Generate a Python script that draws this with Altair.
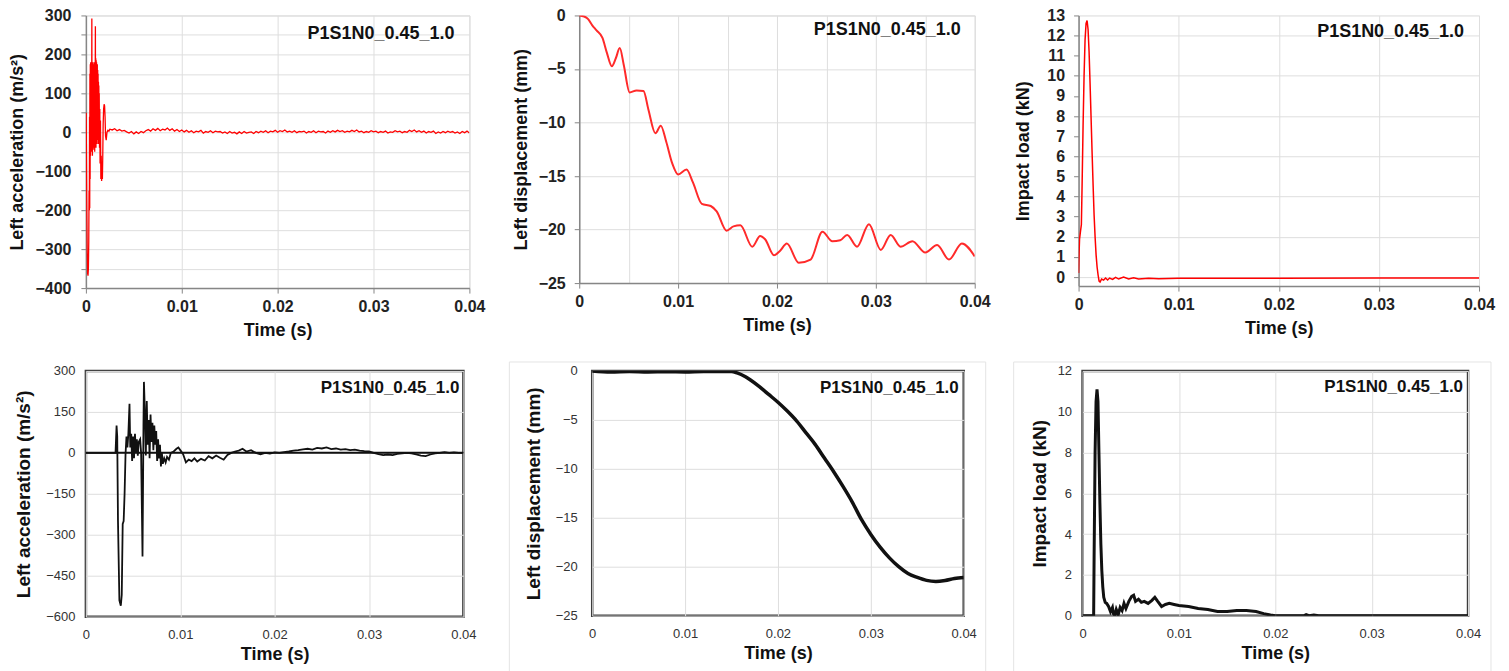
import altair as alt
import pandas as pd

FONT = "Liberation Sans"
LABEL = "P1S1N0_0.45_1.0"

# ---------------- data (time in ms) ----------------
# Top-left: left acceleration (m/s^2), red
acc1_ms = [0.00, 0.03, 0.06, 0.10, 0.14, 0.18, 0.22, 0.26, 0.30, 0.33, 0.36, 0.38, 0.40, 0.42,
           0.44, 0.46, 0.48, 0.50, 0.52, 0.54, 0.56, 0.58, 0.60, 0.62, 0.64, 0.66, 0.68, 0.70,
           0.72, 0.74, 0.76, 0.78, 0.80, 0.82, 0.84, 0.86, 0.88, 0.90, 0.92, 0.94, 0.96, 0.99,
           1.01, 1.03, 1.05, 1.07, 1.09, 1.11, 1.13, 1.15, 1.17, 1.19, 1.21, 1.23, 1.25, 1.27,
           1.29, 1.31, 1.33, 1.35, 1.37, 1.39, 1.42, 1.45, 1.48, 1.52, 1.56, 1.60, 1.64, 1.68,
           1.72, 1.76, 1.80, 1.85, 1.90, 1.95, 2.00, 2.05, 2.12, 2.20, 2.30, 2.40]
acc1_val = [0, 50, -60, -200, -310, -362, -368, -350, -280, -150, -200, 40, -195, 150,
            -120, 175, -60, 180, -30, 160, -50, 140, -20, 292, -40, 170, -60, 180,
            -30, 120, -45, 175, -10, 150, -40, 180, 0, 160, -50, 140, 20, 272,
            -20, 190, -40, 185, 10, 180, -30, 170, 30, 175, -20, 160, 20, 150,
            -30, 130, 10, 120, -20, 100, -40, 60, -80, 30, -120, -60, -125, -90,
            -120, -60, 20, 60, 72, 68, 40, -10, -20, 0, 5, 3]
acc1_tail_start = 2.5
acc1_tail_step = 0.25
acc1_tail = [8, 6, 9, 4, 7, 3, 5, 1, -2, 2, -4, 1, -3, 2, -1, 4,
             7, 3, 9, 5, 10, 4, 8, 6, 11, 5, 9, 3, 7, 2, 6, 1,
             5, 0, 4, -1, 3, 1, 5, -2, 2, 0, 4, -1, 3, 1, 2, -2,
             1, -3, 2, -2, 0, -4, 1, -3, 2, -2, 0, 1, -3, 2, -1, 3,
             0, 4, -1, 3, 1, 5, 0, 4, 2, 6, 1, 3, 0, 4, -1, 2,
             1, 3, -2, 2, 0, 4, -1, 3, 1, 2, -2, 3, 0, 4, 1, 5,
             2, 4, 0, 3, 1, 5, 2, 6, 1, 3, -1, 2, 0, 4, 1, 3,
             -1, 2, 0, 3, -2, 1, 0, 4, 1, 3, -1, 2, 0, 5, 2, 6,
             1, 4, 0, 3, -2, 2, 0, 3, -3, 1, -2, 2, -1, 3, 0, 2,
             -2, 1, -3, 2, -1, 3, -2]

# Top-middle: left displacement (mm), red
dis1_ms = [0, 0.5, 0.9, 1.3, 1.75, 2.35, 2.8, 3.3, 3.7, 4.1, 4.5, 5.1, 5.8, 6.5, 7.0, 7.7,
           8.25, 8.8, 9.4, 10.0, 10.85, 11.5, 12.4, 13.3, 13.9, 14.9, 15.6, 16.3, 17.5,
           18.3, 18.8, 19.7, 20.3, 21.0, 22.2, 23.4, 24.6, 25.6, 26.4, 27.1, 28.1, 29.3,
           30.5, 31.5, 32.5, 33.7, 35.0, 36.2, 37.4, 38.7, 40.0]
dis1_val = [0, -0.1, -0.35, -0.9, -1.4, -2.1, -3.5, -4.75, -4.0, -3.05, -4.6, -7.2, -7.0,
            -7.05, -8.8, -11.0, -10.3, -11.8, -13.8, -14.85, -14.4, -15.6, -17.6, -17.8,
            -18.3, -20.1, -19.7, -19.6, -21.6, -20.6, -20.9, -22.4, -22.0, -21.3, -23.1,
            -22.8, -20.2, -21.1, -21.0, -20.5, -21.6, -19.5, -21.9, -20.5, -21.6, -21.1,
            -22.15, -21.45, -22.8, -21.3, -22.5]

# Top-right: impact load (kN), red
imp1_ms = [0, 0.05, 0.1, 0.2, 0.28, 0.35, 0.45, 0.55, 0.65, 0.75, 0.85, 0.95, 1.05, 1.15,
           1.25, 1.35, 1.45, 1.55, 1.65, 1.75, 1.85, 1.95, 2.05, 2.15, 2.3, 2.5, 2.7, 2.9,
           3.1, 3.4, 3.7, 4.0, 4.5, 5.0, 5.5, 6.0, 7.0, 8.0, 10, 20, 30, 40]
imp1_val = [0.2, 1.2, 1.9, 2.3, 2.6, 4.5, 7.5, 10.0, 11.8, 12.6, 12.75, 12.3, 11.2, 9.6,
            7.9, 6.2, 4.6, 3.1, 2.0, 1.1, 0.5, 0.1, -0.2, -0.25, -0.1, -0.15, -0.05, -0.15,
            -0.05, -0.12, -0.02, -0.1, 0.0, -0.1, -0.04, -0.1, -0.06, -0.08, -0.06, -0.06,
            -0.05, -0.05]

# Bottom-left: left acceleration (m/s^2), black
acc2_ms = [0, 3.0, 3.14, 3.25, 3.32, 3.40, 3.55, 3.70, 3.80, 3.90, 4.00, 4.10, 4.20, 4.30,
           4.40, 4.50, 4.62, 4.70, 4.80, 4.90, 5.00, 5.10, 5.20, 5.30, 5.40, 5.50, 5.60,
           5.75, 5.85, 6.00, 6.10, 6.15, 6.25, 6.35, 6.45, 6.55, 6.65, 6.75, 6.85, 6.95,
           7.05, 7.15, 7.25, 7.35, 7.45, 7.55, 7.65, 7.75, 7.85, 7.95, 8.05, 8.15, 8.3,
           8.45, 8.6, 8.8, 9.0, 9.3, 9.6, 9.8, 10.0, 10.3, 10.6, 10.9, 11.2, 11.5, 11.8,
           12.2, 12.6, 13.0, 13.4, 13.8, 14.2, 14.6, 15.0, 15.4, 15.8, 16.2, 16.6, 17.0,
           17.5, 18.0, 18.5, 19.0, 19.5, 20.0, 20.5, 21.0, 21.5, 22.0, 22.5, 23.0, 23.5,
           24.0, 24.5, 25.0, 25.5, 26.0, 26.5, 27.0, 27.5, 28.0, 28.5, 29.0, 29.5, 30.0,
           30.5, 31.0, 31.5, 32.0, 32.5, 33.0, 33.5, 34.0, 34.5, 35.0, 35.5, 36.0, 36.5,
           37.0, 37.5, 38.0, 38.5, 39.0, 39.5, 40.0]
acc2_val = [0, 0, 0, 100, 60, -250, -540, -560, -520, -260, -250, -150, -5, 60,
            20, 70, 180, 20, 70, -30, 60, -20, 70, 0, 50, -10, 40,
            50, 0, -380, 100, 260, 150, -10, 190, 30, 120, -20, 140, 40,
            110, 10, 100, 30, 80, -30, 50, -20, 30, -50, 0, -40, -20,
            -35, -15, -25, 0, 5, 15, 20, 10, -5, -35, -25, -30, -20, -32,
            -22, -28, -12, -20, -10, -18, -25, -8, 0, 5, 8, 15, 5,
            10, 0, -5, 0, -3, 2, 0, 3, 5, 8, 10, 13, 15,
            12, 18, 16, 20, 14, 16, 12, 14, 10, 12, 8, 6, 5,
            0, -5, -8, -6, -8, -4, -2, 0, -2, -6, -10, -12, -6,
            -2, 0, 3, 0, 2, 0, 0]

# Bottom-middle: left displacement (mm), black
dis2_ms = [0, 2, 4, 6, 8, 10, 12, 14, 15, 15.6, 16.5, 17.0, 18.0, 19.0, 20.0, 21.0, 22.0,
           23.0, 24.0, 25.0, 26.0, 27.0, 28.0, 29.0, 30.0, 31.0, 32.0, 33.0, 34.0, 35.0,
           36.0, 37.0, 38.0, 39.0, 40.0]
dis2_val = [0, -0.1, -0.05, -0.1, -0.08, -0.1, -0.05, -0.05, -0.05, -0.2, -0.6, -0.9, -1.6,
            -2.4, -3.2, -4.1, -5.1, -6.3, -7.5, -8.9, -10.3, -11.8, -13.4, -15.2, -16.7,
            -18.0, -19.1, -20.0, -20.7, -21.1, -21.4, -21.5, -21.4, -21.2, -21.1]

# Bottom-right: impact load (kN), black
imp2_ms = [0, 1.15, 1.2, 1.3, 1.4, 1.5, 1.6, 1.7, 1.8, 1.9, 2.0, 2.1, 2.2, 2.35, 2.5, 2.7,
           2.9, 3.1, 3.2, 3.35, 3.5, 3.7, 3.9, 4.1, 4.3, 4.5, 4.8, 5.1, 5.3, 5.5, 5.8, 6.1,
           6.4, 6.8, 7.2, 7.5, 7.8, 8.2, 8.6, 9.0, 9.5, 10.0, 11.0, 12.0, 13.0, 14.0, 15.0,
           16.0, 17.0, 18.0, 18.8, 19.5, 20.0, 23.0, 23.2, 23.5, 24.0, 24.5, 40]
imp2_val = [0, 0, 3, 8, 10.5, 11.1, 10.5, 8, 5.5, 3.5, 2.2, 1.4, 0.9, 0.65, 0.6, 0.45,
            0.2, 0.4, 0.1, 0.0, 0.3, 0.05, 0.4, 0.25, 0.6, 0.35, 0.7, 0.95, 1.0, 0.7, 0.8,
            0.65, 0.7, 0.6, 0.75, 0.9, 0.7, 0.45, 0.55, 0.6, 0.55, 0.5, 0.45, 0.35, 0.3,
            0.2, 0.2, 0.25, 0.25, 0.2, 0.1, 0.03, 0.0, 0.0, 0.05, 0.0, 0.03, 0.0, 0]

# axis tick values
x_ticks = [0, 0.01, 0.02, 0.03, 0.04]
x_ticks_fine = [0, 0.005, 0.01, 0.015, 0.02, 0.025, 0.03, 0.035, 0.04]
y1_ticks = [-400, -350, -300, -250, -200, -150, -100, -50, 0, 50, 100, 150, 200, 250, 300]
y2_ticks = [-25, -20, -15, -10, -5, 0]
y3_ticks = [0, 1, 2, 3, 4, 5, 6, 7, 8, 9, 10, 11, 12, 13]
y4_ticks = [-600, -450, -300, -150, 0, 150, 300]
y5_ticks = [-25, -20, -15, -10, -5, 0]
y6_ticks = [0, 2, 4, 6, 8, 10, 12]


def frame(ms, vals):
    return pd.DataFrame({"t": [m / 1000.0 for m in ms], "v": vals})


acc1_all_ms = acc1_ms + [acc1_tail_start + i * acc1_tail_step for i in range(len(acc1_tail))]
df1 = frame(acc1_all_ms, acc1_val + acc1_tail)
df2 = frame(dis1_ms, dis1_val)
df3 = frame(imp1_ms, imp1_val)
df4 = frame(acc2_ms, acc2_val)
df5 = frame(dis2_ms, dis2_val)
df6 = frame(imp2_ms, imp2_val)

GRID = "#dedede"

# ---------- axis styles ----------
def top_x(values, fine=False):
    kw = dict(title="Time (s)", values=values, format="~g", labelFont=FONT, labelFontSize=16,
              labelFontWeight="bold", labelColor="#222", titleFont=FONT, titleFontSize=18,
              titleFontWeight="bold", titleColor="#111", domainColor="#868686", domainWidth=1.5,
              tickColor="#868686", tickSize=5, gridColor=GRID, labelPadding=5, titlePadding=7,
              labelFlush=False, labelOverlap=False)
    if fine:
        test = "abs(datum.value*100 - round(datum.value*100)) < 1e-6"
        kw["labelExpr"] = test + " ? datum.label : ''"
        kw["tickOpacity"] = {"condition": {"test": test, "value": 1}, "value": 0}
    return alt.Axis(**kw)


def top_y(title, values, extent, tpad, lpad, label_test=None, grid_test=None):
    kw = dict(title=title, values=values, format="d", labelFont=FONT, labelFontSize=16,
              labelFontWeight="bold", labelColor="#222", titleFont=FONT, titleFontSize=18,
              titleFontWeight="bold", titleColor="#111", domainColor="#868686", domainWidth=1.5,
              tickColor="#868686", tickSize=5, gridColor=GRID, labelPadding=lpad,
              titlePadding=tpad, minExtent=extent, maxExtent=extent, labelFlush=False,
              labelOverlap=False)
    if label_test:
        kw["labelExpr"] = label_test + " ? datum.label : ''"
    if grid_test:
        kw["gridOpacity"] = {"condition": {"test": grid_test, "value": 1}, "value": 0}
    return alt.Axis(**kw)


def bot_x():
    return alt.Axis(title="Time (s)", values=x_ticks, format="~g", labelFont=FONT,
                    labelFontSize=13, labelColor="#333", titleFont=FONT, titleFontSize=18,
                    titleFontWeight="bold", titleColor="#111", domain=False, ticks=False,
                    gridColor=GRID, labelPadding=12, titlePadding=4, labelFlush=False,
                    labelOverlap=False)


def bot_y(title, values, extent, tpad, lpad):
    return alt.Axis(title=title, values=values, format="d", labelFont=FONT, labelFontSize=13,
                    labelColor="#333", titleFont=FONT, titleFontSize=19, titleFontWeight="bold",
                    titleColor="#111", domain=False, ticks=False, gridColor=GRID,
                    labelPadding=lpad, titlePadding=tpad, minExtent=extent, maxExtent=extent,
                    labelFlush=False, labelOverlap=False)


def note(w, right, y, size):
    return alt.Chart(pd.DataFrame({"label": [LABEL]})).mark_text(
        align="right", baseline="middle", font=FONT, fontSize=size, fontWeight="bold",
        color="#111").encode(x=alt.value(w - right), y=alt.value(y), text="label:N")


def line(df, color, sw, xaxis, yaxis, ydom, interp="linear"):
    return alt.Chart(df).mark_line(color=color, strokeWidth=sw, interpolate=interp,
                                   clip=True).encode(
        x=alt.X("t:Q", axis=xaxis, scale=alt.Scale(domain=[0, 0.04], nice=False, zero=False)),
        y=alt.Y("v:Q", axis=yaxis, scale=alt.Scale(domain=ydom, nice=False, zero=False)),
    )


top_view = alt.ViewBackground(stroke="#d9d9d9", strokeWidth=1)
bot_view = alt.ViewBackground(stroke="#3c3c3c", strokeWidth=2.5)

# ---------- top row ----------
W1, H1 = 384, 273
p1 = alt.layer(
    line(df1, "#ff0000", 1.3, top_x(x_ticks),
         top_y("Left acceleration (m/s²)", y1_ticks, 47, 12, 10, label_test="datum.value % 100 === 0"),
         [-400, 300]),
    note(W1, 15, 19, 18),
).properties(width=W1, height=H1, view=top_view)

W2, H2 = 396, 268
p2 = alt.layer(
    line(df2, "#ff2a2a", 2, top_x(x_ticks_fine, fine=True),
         top_y("Left displacement (mm)", y2_ticks, 39, 10, 9), [-25, 0], "monotone"),
    note(W2, 14, 15, 18),
).properties(width=W2, height=H2, view=top_view)

W3, H3 = 401, 271
p3 = alt.layer(
    line(df3, "#ff0000", 1.5, top_x(x_ticks),
         top_y("Impact load (kN)", y3_ticks, 33, 13, 9, grid_test="datum.value % 2 === 0"),
         [-0.45, 13]),
    note(W3, 15, 17, 18),
).properties(width=W3, height=H3, view=top_view)

# ---------- bottom row ----------
W4, H4 = 378, 246
zero = alt.Chart(pd.DataFrame({"v": [0]})).mark_rule(color="#111", strokeWidth=2).encode(
    y=alt.Y("v:Q", scale=alt.Scale(domain=[-600, 300], nice=False, zero=False)))
p4 = alt.layer(
    zero,
    line(df4, "#111111", 1.8, bot_x(),
         bot_y("Left acceleration (m/s²)", y4_ticks, 38, 14, 11), [-600, 300]),
    note(W4, 4, 17, 17),
).properties(width=W4, height=H4, view=bot_view)

W5, H5 = 372, 245
box5 = alt.Chart(pd.DataFrame({"label": [LABEL]})).mark_rect(
    fill=None, stroke="#e4e4e4", strokeWidth=1).encode(
    x=alt.value(-83), x2=alt.value(W5 + 22), y=alt.value(-9), y2=alt.value(H5 + 70))
p5 = alt.layer(
    box5,
    line(df5, "#111111", 3.5, bot_x(),
         bot_y("Left displacement (mm)", y5_ticks, 37, 12, 15), [-25, 0], "monotone"),
    note(W5, 5, 17, 17),
).properties(width=W5, height=H5, view=bot_view)

W6, H6 = 386, 245
box6 = alt.Chart(pd.DataFrame({"label": [LABEL]})).mark_rect(
    fill=None, stroke="#e4e4e4", strokeWidth=1).encode(
    x=alt.value(-69), x2=alt.value(W6 + 23), y=alt.value(-9), y2=alt.value(H6 + 70))
p6 = alt.layer(
    box6,
    line(df6, "#111111", 3, bot_x(),
         bot_y("Impact load (kN)", y6_ticks, 27, 6, 11), [0, 12]),
    note(W6, 5, 16, 17),
).properties(width=W6, height=H6, view=bot_view)

row1 = alt.hconcat(p1, alt.hconcat(p2, p3, spacing=104, bounds="flush"),
                   spacing=110, bounds="flush")
row2 = alt.hconcat(p4, alt.hconcat(p5, p6, spacing=119, bounds="flush"),
                   spacing=129, bounds="flush")

# nested rows report no height in flush mode, so the spacing spans row 1 + gap
chart = alt.vconcat(row1, row2, spacing=356, bounds="flush").properties(
    padding={"left": 0, "top": -2, "right": 5, "bottom": 0},
    background="white",
).configure(font=FONT)

chart.save("out.html", embed_options={"renderer": "svg", "actions": False})
